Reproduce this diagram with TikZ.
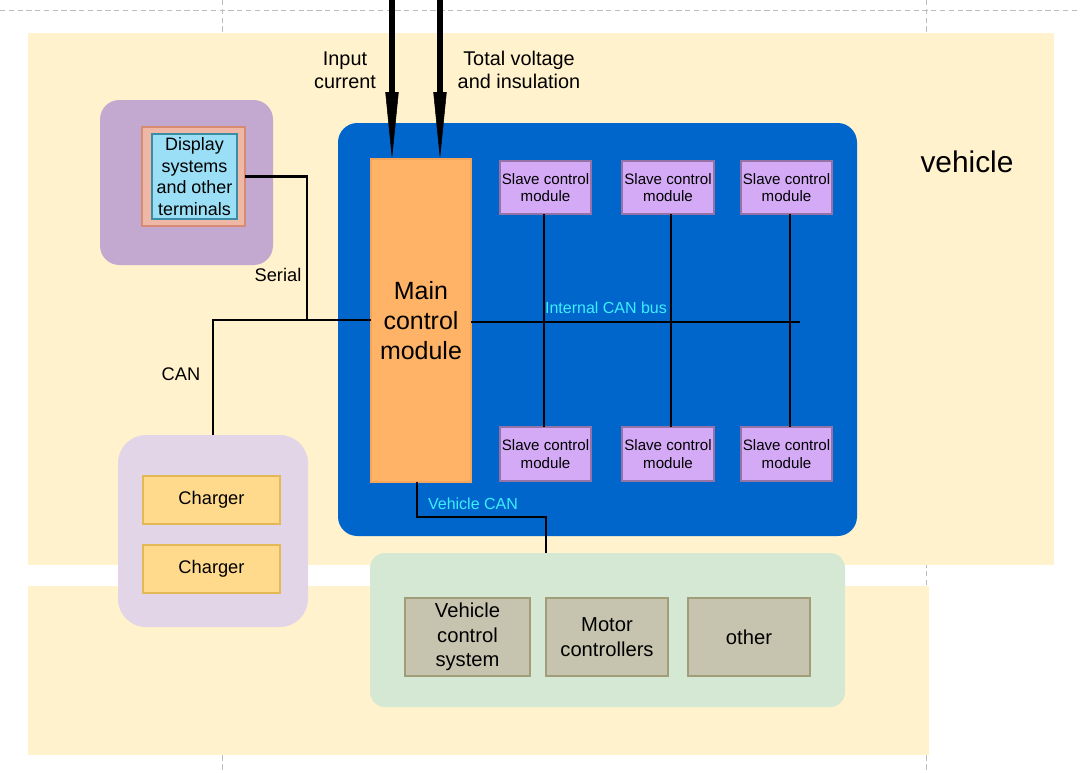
\documentclass[tikz,border=0pt]{standalone}
\usepackage{fontspec}
\setmainfont{Liberation Sans}
\usetikzlibrary{arrows.meta}
\definecolor{cream}{HTML}{FFF2CC}
\definecolor{grpPurple}{HTML}{C3A9CF}
\definecolor{salmonF}{HTML}{EFB8A6}
\definecolor{salmonD}{HTML}{D98A72}
\definecolor{skyF}{HTML}{9ADFF6}
\definecolor{skyD}{HTML}{3A8DA5}
\definecolor{bigBlue}{HTML}{0066CC}
\definecolor{orangeF}{HTML}{FFB366}
\definecolor{orangeD}{HTML}{F5A55A}
\definecolor{slaveF}{HTML}{D4AAF7}
\definecolor{slaveD}{HTML}{9673A6}
\definecolor{chgGrp}{HTML}{E1D5E7}
\definecolor{chgF}{HTML}{FFDA8C}
\definecolor{chgD}{HTML}{E3B957}
\definecolor{greenF}{HTML}{D5E8D4}
\definecolor{greyF}{HTML}{C6C4AE}
\definecolor{greyD}{HTML}{A09D78}
\definecolor{cyanT}{HTML}{3CEEFF}
\definecolor{pageLine}{HTML}{BDBDBD}
\newcommand\pbx[7]{\node[#6, anchor=north west, minimum width={(#4-#2)*0.02cm}, minimum height={(#5-#3)*0.02cm}] (#1) at (#2,#3) {#7};}
\tikzset{
  base/.style={inner sep=0pt, outer sep=0pt, align=center},
  grp/.style={base, fill=#1, rounded corners=11pt},
  dispouter/.style={base, fill=salmonF, draw=salmonD, line width=0.8pt},
  dispinner/.style={base, fill=skyF, draw=skyD, line width=0.8pt, font=\fontsize{10.2}{12.4}\selectfont},
  mainbox/.style={base, fill=orangeF, draw=orangeD, line width=0.6pt, font=\fontsize{14.2}{17}\selectfont},
  slave/.style={base, fill=slaveF, draw=slaveD, line width=0.7pt, font=\fontsize{8.6}{10}\selectfont},
  charger/.style={base, fill=chgF, draw=chgD, line width=0.8pt, font=\fontsize{10.4}{12}\selectfont},
  ecu/.style={base, fill=greyF, draw=greyD, line width=0.8pt, font=\fontsize{11.5}{14}\selectfont},
  wire/.style={line width=1.2pt, black},
  bigarrow/.style={line width=3.2pt, black, -{Triangle[length=38pt, width=7.5pt, line width=0.3pt]}},
  lbl/.style={inner sep=0pt, align=center, font=\fontsize{10.4}{12}\selectfont},
  toplbl/.style={inner sep=0pt, align=center, font=\fontsize{11.3}{13}\selectfont},
  buslbl/.style={inner sep=0pt, text=cyanT, font=\fontsize{9.1}{11}\selectfont},
  pagedash/.style={pageLine, line width=0.5pt, dash pattern=on 3pt off 2pt}
}
\begin{document}
\begin{tikzpicture}[x=0.02cm, y=-0.02cm]
\useasboundingbox (0,0) rectangle (1080,772);
% editor page lines
\draw[pagedash] (0,10) -- (1080,10);
\draw[pagedash] (222,0) -- (222,772);
\draw[pagedash] (926,0) -- (926,772);
% backgrounds
\fill[cream] (28,33) rectangle (1054,565);
\fill[cream] (28,586) rectangle (929,755);
\node[inner sep=0pt, font=\fontsize{17}{20}\selectfont] (vehlbl) at (967,162) {vehicle};
% groups
\pbx{dispgrp}{100}{100}{273}{265}{grp=grpPurple}{}
\pbx{chggrp}{118}{435}{308}{627}{grp=chgGrp, rounded corners=16pt}{}
\pbx{bms}{338}{123}{857}{536}{grp=bigBlue}{}
\pbx{ecugrp}{370}{553}{845}{707}{grp=greenF, rounded corners=8.5pt}{}
% display
\pbx{dispout}{142}{127}{245}{226}{dispouter}{}
\pbx{disp}{152}{134}{237}{219}{dispinner}{Display\\systems\\and other\\terminals}
% main
\pbx{main}{371}{159}{471}{482}{mainbox}{Main\\control\\module}
% slaves
\pbx{s1}{500}{161}{591}{214}{slave}{Slave control\\module}
\pbx{s2}{622}{161}{714}{214}{slave}{Slave control\\module}
\pbx{s3}{741}{161}{832}{214}{slave}{Slave control\\module}
\pbx{s4}{500}{427}{591}{481}{slave}{Slave control\\module}
\pbx{s5}{622}{427}{714}{481}{slave}{Slave control\\module}
\pbx{s6}{741}{427}{832}{481}{slave}{Slave control\\module}
% chargers
\pbx{c1}{143}{476}{280}{524}{charger}{Charger}
\pbx{c2}{143}{545}{280}{593}{charger}{Charger}
% ecus
\pbx{e1}{405}{598}{530}{676}{ecu}{Vehicle\\control\\system}
\pbx{e2}{546}{598}{668}{676}{ecu}{Motor\\controllers}
\pbx{e3}{688}{598}{810}{676}{ecu}{other}
% input arrows
\coordinate (a1) at (392,0);
\coordinate (a2) at (440,0);
\draw[bigarrow] (a1) -- (main.north -| a1);
\draw[bigarrow] (a2) -- (main.north -| a2);
\node[toplbl] (inlbl) at (345,70) {Input\\current};
\node[toplbl] (tvlbl) at (519,70) {Total voltage\\and insulation};
% serial / CAN
\coordinate (jn) at (307,320);
\draw[wire] (dispout.east) -| (jn);
\draw[wire] (chggrp.north) |- (jn);
\draw[wire] (jn) -- (main.west |- jn);
\node[lbl] (serlbl) at (278,275) {Serial};
\node[lbl] (canlbl) at (181,374) {CAN};
% internal bus
\coordinate (busend) at (800,322);
\draw[wire] (main.east |- busend) -- (busend);
\draw[wire] (s1.south -| 544,0) -- (s4.north -| 544,0);
\draw[wire] (s2.south -| 671,0) -- (s5.north -| 671,0);
\draw[wire] (s3.south -| 790,0) -- (s6.north -| 790,0);
\node[buslbl] (buslbl) at (606,308) {Internal CAN bus};
% vehicle CAN
\coordinate (vc1) at (417,517);
\coordinate (vc2) at (546,517);
\draw[wire] (main.south -| vc1) -- (vc1) -- (vc2) -- (ecugrp.north -| vc2);
\node[buslbl] (vclbl) at (473,504) {Vehicle CAN};
\end{tikzpicture}
\end{document}
